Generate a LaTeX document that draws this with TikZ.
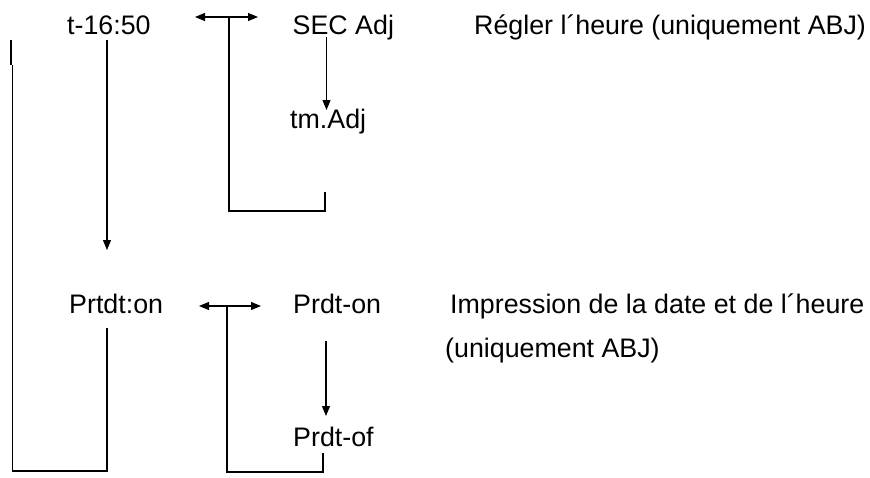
\documentclass[tikz,border=0pt]{standalone}
\usepackage{fontspec}
\setmainfont{Liberation Sans}
\usetikzlibrary{arrows.meta}
\begin{document}
\begin{tikzpicture}[x=1pt,y=-1pt,
  lbl/.style={anchor=base west,inner sep=0pt,font=\fontsize{26.8}{32}\selectfont},
  conn/.style={line width=1.1pt,line cap=butt},
  tip/.style={-{Triangle[length=10pt,width=8pt]}},
  dtip/.style={{Triangle[length=10pt,width=8pt]}-{Triangle[length=10pt,width=8pt]}}]
\useasboundingbox (0,0) rectangle (870,477);
% texts
\node[lbl] (t) at (67,34) {t-16:50};
\node[lbl] (sec) at (292.5,34) {SEC Adj};
\node[lbl] (tm) at (290,128) {tm.Adj};
\node[lbl] (reg) at (474,34) {Régler l´heure (uniquement ABJ)};
\node[lbl] (prtdt) at (69,313) {Prtdt:on};
\node[lbl] (prdton) at (293,313) {Prdt-on};
\node[lbl] (prdtof) at (293,446) {Prdt-of};
\node[lbl] (imp) at (450,313) {Impression de la date et de l´heure};
\node[lbl] (uniq) at (445,357.5) {(uniquement ABJ)};
% connector end points
\coordinate (a1l) at (195,17);
\coordinate (a1r) at (258,17);
\coordinate (a1m) at (229,17);
\coordinate (l1a) at (229,211);
\coordinate (l1b) at (325,211);
\coordinate (l1c) at (325,192);
\coordinate (s1) at (326.5,37);
\coordinate (s2) at (326.5,110);
\coordinate (v1) at (107,40);
\coordinate (v2) at (107,250);
\coordinate (ltop) at (10.7,40);
\coordinate (lmid) at (10.7,65);
\coordinate (lmid2) at (12.3,65);
\coordinate (lbot) at (12.3,471);
\coordinate (rbot) at (107,471);
\coordinate (rtop) at (107,328);
\coordinate (a2l) at (199,306);
\coordinate (a2r) at (261,306);
\coordinate (a2m) at (227,306);
\coordinate (l2a) at (227,472);
\coordinate (l2b) at (323,472);
\coordinate (l2c) at (323,453);
\coordinate (p1) at (326,341);
\coordinate (p2) at (326,416);
% top part
\draw[conn,dtip] (a1l) -- (a1r);
\draw[conn] (a1m) -- (l1a) -- (l1b) -- (l1c);
\draw[conn,tip] (s1) -- (s2);
\draw[conn,tip] (v1) -- (v2);
% left loop
\draw[line width=1.6pt] (ltop) -- (lmid);
\draw[conn] (lmid2) -- (lbot) -- (rbot) -- (rtop);
% bottom part
\draw[conn,dtip] (a2l) -- (a2r);
\draw[conn] (a2m) -- (l2a) -- (l2b) -- (l2c);
\draw[conn,tip] (p1) -- (p2);
\end{tikzpicture}
\end{document}
